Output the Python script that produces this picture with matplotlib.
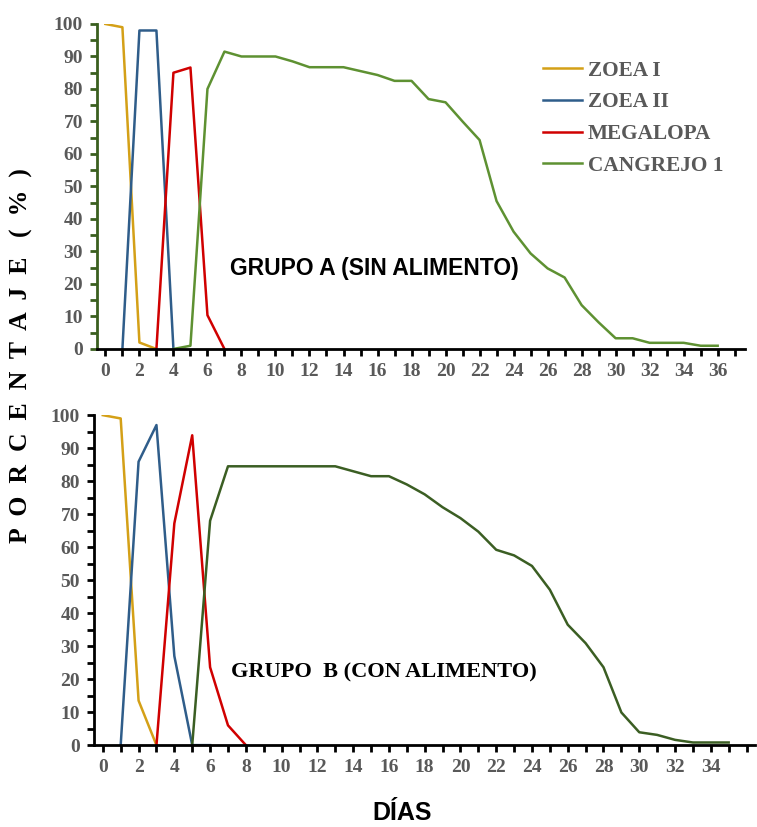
import numpy as np
import matplotlib.pyplot as plt
from matplotlib.ticker import MultipleLocator, FixedLocator

# Grupo A (sin alimento)
a_zoea1_days = [0, 1, 2, 3]
a_zoea1 = [100, 99, 2, 0]
a_zoea2_days = [1, 2, 3, 4]
a_zoea2 = [0, 98, 98, 0]
a_mega_days = [3, 4, 5, 6, 7]
a_mega = [0, 85, 86.6, 10.4, 0]
a_cang_days = list(range(4, 37))
a_cang = [0, 1, 80, 91.5, 90, 90, 90, 88.5, 86.7, 86.7, 86.7, 85.5, 84.3,
          82.5, 82.5, 76.9, 75.9, 70, 64.3, 45.5, 36.1, 29.4, 24.8, 22,
          13.5, 8.2, 3.3, 3.3, 1.9, 1.9, 1.9, 1, 1]

# Grupo B (con alimento)
b_zoea1_days = [0, 1, 2, 3]
b_zoea1 = [100, 99, 13.5, 0]
b_zoea2_days = [1, 2, 3, 4, 5, 6]
b_zoea2 = [0, 85.9, 97, 27, 0, 0]
b_mega_days = [3, 4, 5, 6, 7, 8]
b_mega = [0, 67.2, 93.9, 23.6, 6, 0]
b_cang_days = list(range(5, 36))
b_cang = [0, 68, 84.5, 84.5, 84.5, 84.5, 84.5, 84.5, 84.5, 83, 81.5, 81.5,
          79, 76, 72.1, 68.8, 64.7, 59.2, 57.5, 54.3, 47.1, 36.5, 30.9,
          23.6, 9.9, 3.9, 3.1, 1.6, 0.8, 0.8, 0.8]

labels = ['ZOEA I', 'ZOEA II', 'MEGALOPA', 'CANGREJO 1']
c_zoea1 = '#D4A017'
c_zoea2 = '#2F5D8A'
c_mega = '#D00000'
c_cang_a = '#5E9132'
c_cang_b = '#3B5E23'
gray = '#595959'
serif = 'Liberation Serif'
sans = 'Liberation Sans'

plt.rcParams['font.family'] = serif
plt.rcParams['font.weight'] = 'bold'

fig = plt.figure(figsize=(7.57, 8.27), dpi=100)
ax1 = fig.add_axes([0.128, 0.578, 0.856, 0.393])
ax2 = fig.add_axes([0.124, 0.099, 0.874, 0.399])

lw = 1.8
ax1.plot(a_zoea1_days, a_zoea1, color=c_zoea1, lw=lw, label=labels[0])
ax1.plot(a_zoea2_days, a_zoea2, color=c_zoea2, lw=lw, label=labels[1])
ax1.plot(a_mega_days, a_mega, color=c_mega, lw=lw, label=labels[2])
ax1.plot(a_cang_days, a_cang, color=c_cang_a, lw=lw, label=labels[3])

ax2.plot(b_zoea1_days, b_zoea1, color=c_zoea1, lw=lw)
ax2.plot(b_zoea2_days, b_zoea2, color=c_zoea2, lw=lw)
ax2.plot(b_mega_days, b_mega, color=c_mega, lw=lw)
ax2.plot(b_cang_days, b_cang, color=c_cang_b, lw=lw)

ax1.set_xlim(-0.5, 37.6)
ax2.set_xlim(-0.5, 36.5)

for ax, last_lab, last_tick in [(ax1, 36, 37), (ax2, 34, 36)]:
    ax.set_ylim(0, 100)
    ax.spines['top'].set_visible(False)
    ax.spines['right'].set_visible(False)
    ax.spines['bottom'].set_linewidth(2)
    ax.spines['left'].set_linewidth(2)
    ax.xaxis.set_major_locator(FixedLocator(np.arange(0, last_lab + 1, 2)))
    minor = [d for d in range(0, last_tick + 1) if d % 2 == 1 or d > last_lab]
    ax.xaxis.set_minor_locator(FixedLocator(minor))
    ax.yaxis.set_major_locator(MultipleLocator(10))
    ax.yaxis.set_minor_locator(MultipleLocator(5))
    ax.tick_params(axis='both', which='both', direction='out', width=2,
                   length=5, labelsize=14, labelcolor=gray, pad=5)

# top panel: dark green y axis
ax1.spines['left'].set_color('#3A5F1F')
ax1.tick_params(axis='y', which='both', color='#3A5F1F')

leg = ax1.legend(loc='upper left', bbox_to_anchor=(0.672, 0.92), frameon=False,
                 handlelength=1.85, handletextpad=0.25, labelspacing=0.55,
                 borderpad=0, prop={'family': serif, 'weight': 'bold', 'size': 15.3})
for t in leg.get_texts():
    t.set_color(gray)

ax1.text(0.205, 0.249, 'GRUPO A (SIN ALIMENTO)', transform=ax1.transAxes,
         fontsize=16.5, fontweight='bold', family=sans, va='center', ha='left')
ax2.text(0.208, 0.219, 'GRUPO  B (CON ALIMENTO)', transform=ax2.transAxes,
         fontsize=16.1, fontweight='bold', family=serif, va='center', ha='left')

fig.text(0.531, 0.009, 'DÍAS', fontsize=18, fontweight='bold', family=sans,
         ha='center', va='baseline')
fig.text(0.029, 0.570, 'P  O  R  C  E  N  T  A  J  E   (  %  )', fontsize=18.5,
         fontweight='bold', family=serif, rotation=90, ha='center', va='center')

fig.savefig('out.png', dpi=100)
